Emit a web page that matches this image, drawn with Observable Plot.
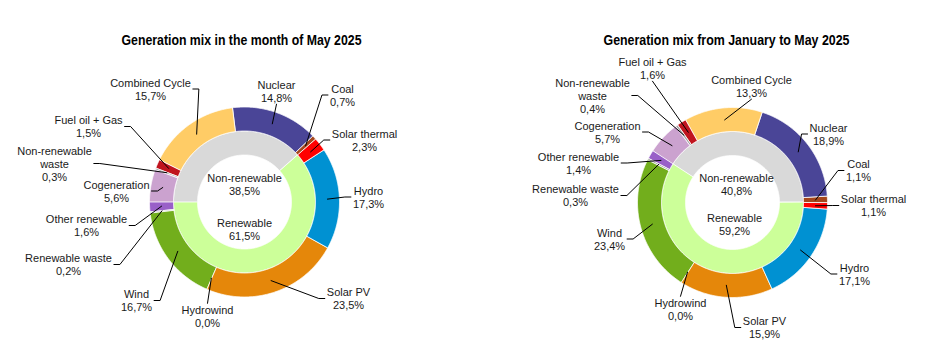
<!DOCTYPE html>
<html><head><meta charset="utf-8">
<script src="https://cdn.jsdelivr.net/npm/d3@7"></script>
<script src="https://cdn.jsdelivr.net/npm/@observablehq/plot@0.6"></script>
<style>body{margin:0;background:#fff}</style>
</head><body><div id="chart"></div>
<script>
// ---------- data ----------
const sources = ["Cogeneration","Non-renewable waste","Fuel oil + Gas","Combined Cycle","Nuclear","Coal","Solar thermal","Hydro","Solar PV","Hydrowind","Wind","Renewable waste","Other renewable"];
const sourceLabels = ["Cogeneration","Non-renewable\nwaste","Fuel oil + Gas","Combined Cycle","Nuclear","Coal","Solar thermal","Hydro","Solar PV","Hydrowind","Wind","Renewable waste","Other renewable"];
const mayShares = [5.6, 0.3, 1.5, 15.7, 14.8, 0.7, 2.3, 17.3, 23.5, 0.0, 16.7, 0.2, 1.6];
const ytdShares = [5.7, 0.4, 1.6, 13.3, 18.9, 1.1, 1.1, 17.1, 15.9, 0.0, 23.4, 0.3, 1.4];
const groups = ["Non-renewable", "Renewable"];
const mayGroupShares = [38.5, 61.5];
const ytdGroupShares = [40.8, 59.2];
const chartTitles = ["Generation mix in the month of May 2025", "Generation mix from January to May 2025"];

// ---------- styles ----------
const sourceColors = ["#CBA2CF","#A6A6A6","#C0141E","#FFCC66","#4A4597","#A4461C","#FF0000","#0091D2","#E5870A","#7F7F7F","#72AE1C","#A0A0A0","#9960C8"];
const groupColors = ["#D9D9D9", "#CCFF99"];
const FONT = "Liberation Sans, Arial, sans-serif";

// ---------- layout ----------
const R0 = 47, R1 = 71, R2 = 95, RL = 83;
const layout = [
  {cx: 244, cy: 201.5, startDeg: -90, titleX: 241, titleY: 40, titleW: 240,
   inner: [[0, -17.5], [0, 27.5]],
   labels: [[-128,-11],[-190,-38.5],[-156,-75.5],[-94,-113],[32,-111],[98,-107],[120,-62],[124,-5],[104,96.5],[-37,114.5],[-108,98.5],[-176,62.5],[-158,23.5]]},
  {cx: 732, cy: 202, startDeg: -57, titleX: 726, titleY: 40, titleW: 246,
   inner: [[4, -18], [2, 22]],
   labels: [[-125,-70.5],[-140,-107],[-80,-134.5],[19,-116.5],[96,-68.5],[126,-32],[141,3],[122,71.5],[32,125],[-52,107],[-123,36.5],[-157,-7],[-154,-39.5]]}
];

const fmt = v => d3.format(".1f")(v).replace(".", ",") + "%";
const ctx = document.createElement("canvas").getContext("2d");
ctx.font = "11px " + FONT;
const LH = 13.2;

function ring(cx, cy, r0, r1, arcs, keyPrefix, colors) {
  const pts = [];
  arcs.forEach((a, i) => {
    if (a.endAngle - a.startAngle <= 0) return;
    const n = Math.max(2, Math.ceil((a.endAngle - a.startAngle) / (Math.PI / 360)));
    const key = keyPrefix + i;
    for (let k = 0; k <= n; k++) {
      const t = a.startAngle + (a.endAngle - a.startAngle) * k / n;
      pts.push({x: cx + r1 * Math.sin(t), y: cy - r1 * Math.cos(t), key, color: colors[i]});
    }
    for (let k = n; k >= 0; k--) {
      const t = a.startAngle + (a.endAngle - a.startAngle) * k / n;
      pts.push({x: cx + r0 * Math.sin(t), y: cy - r0 * Math.cos(t), key, color: colors[i]});
    }
  });
  return pts;
}

const polys = [], labelRows = [], leaderPts = [], innerRows = [], titleRows = [];
[[mayShares, mayGroupShares], [ytdShares, ytdGroupShares]].forEach(([shares, gShares], c) => {
  const L = layout[c];
  const start = L.startDeg * Math.PI / 180;
  const pie = d3.pie().sort(null).value(d => d).startAngle(start).endAngle(start + 2 * Math.PI);
  const outer = pie(shares), inner = pie(gShares);
  polys.push(...ring(L.cx, L.cy, R0, R1, inner, `g${c}-`, groupColors));
  polys.push(...ring(L.cx, L.cy, R1, R2, outer, `s${c}-`, sourceColors));
  titleRows.push({x: L.titleX, y: L.titleY, text: chartTitles[c], w: L.titleW});
  groups.forEach((g, i) => innerRows.push({x: L.cx + L.inner[i][0], y: L.cy + L.inner[i][1], text: g + "\n" + fmt(gShares[i])}));
  outer.forEach((a, i) => {
    const text = sourceLabels[i] + "\n" + fmt(shares[i]);
    const lines = text.split("\n");
    const lx = L.cx + L.labels[i][0], ly = L.cy + L.labels[i][1];
    labelRows.push({x: lx, y: ly, text});
    const w = d3.max(lines, s => ctx.measureText(s).width) + 4;
    const h = lines.length * LH;
    const mid = (a.startAngle + a.endAngle) / 2;
    const sx = L.cx + RL * Math.sin(mid), sy = L.cy - RL * Math.cos(mid);
    const key = `l${c}-${i}`;
    const left = lx - w / 2, right = lx + w / 2, top = ly - h / 2, bottom = ly + h / 2;
    let path;
    if (sx < left - 3) path = [[left, ly], [left - 6, ly], [sx, sy]];
    else if (sx > right + 3) path = [[right, ly], [right + 6, ly], [sx, sy]];
    else if (sy > bottom) path = [[lx, bottom], [sx, sy]];
    else path = [[lx, top], [sx, sy]];
    path.forEach(([x, y]) => leaderPts.push({x, y, key}));
  });
});

const plot = Plot.plot({
  width: 932, height: 353, margin: 0,
  x: {domain: [0, 932], range: [0, 932], axis: null},
  y: {domain: [0, 353], range: [0, 353], axis: null},
  color: {type: "identity"},
  style: {fontFamily: FONT, background: "#fff"},
  marks: [
    Plot.line(polys, {x: "x", y: "y", z: "key", fill: "color", stroke: "#fff", strokeWidth: 0.8, curve: "linear-closed"}),
    Plot.line(leaderPts, {x: "x", y: "y", z: "key", stroke: "#000", strokeWidth: 1}),
    Plot.text(labelRows, {x: "x", y: "y", text: "text", fontSize: 11, fill: "#1a1a1a", lineHeight: 1.2, lineAnchor: "middle"}),
    Plot.text(innerRows, {x: "x", y: "y", text: "text", fontSize: 11, fill: "#1a1a1a", lineHeight: 1.2, lineAnchor: "middle"}),
    Plot.text(titleRows, {x: "x", y: "y", text: "text", fontSize: 14.5, fontWeight: "bold", fontFamily: "Liberation Sans, Arial, sans-serif", fill: "#000"})
  ]
});
// fit the condensed title lettering to the reference width
plot.querySelectorAll("text").forEach(t => {
  const row = titleRows.find(r => r.text === t.textContent);
  if (row) { t.setAttribute("textLength", row.w); t.setAttribute("lengthAdjust", "spacingAndGlyphs"); }
});
document.getElementById("chart").appendChild(plot);
</script>
</body></html>
